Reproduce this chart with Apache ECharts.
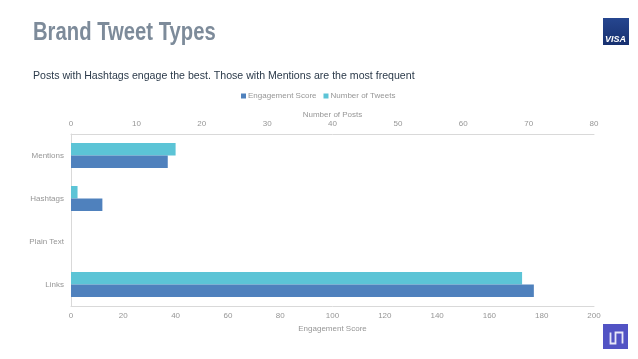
<!DOCTYPE html>
<html>
<head>
<meta charset="utf-8">
<title>Brand Tweet Types</title>
<style>
  html, body { margin: 0; padding: 0; background: #fff; }
  #chart { width: 638px; height: 359px; }
</style>
<script src="https://cdn.jsdelivr.net/npm/echarts@6/dist/echarts.min.js"></script>
</head>
<body>
<div id="chart"></div>
<script>
// bottom to top, same as the bars on the category axis
const categories = ['Links', 'Plain Text', 'Hashtags', 'Mentions'];
const engagementScore = [177, 0, 12, 37];
const numberOfTweets = [69, 0, 1, 16];

const labelFont = 'Liberation Sans';
const labelColor = '#969696';
const lineColor = '#d9d9d9';

const chart = echarts.init(document.getElementById('chart'));

chart.setOption({
    animation: false,
    textStyle: { fontFamily: labelFont },
    title: {
        text: 'Posts with Hashtags engage the best. Those with Mentions are the most frequent',
        left: 28, top: 66,
        textStyle: { fontSize: 10.6, fontWeight: 'normal', color: '#2b3a4a', fontFamily: labelFont }
    },
    legend: {
        top: 87, left: 236,
        itemWidth: 5, itemHeight: 5, itemGap: 7,
        icon: 'rect',
        textStyle: { fontSize: 8, color: labelColor, padding: [0, 0, 0, -3] },
        data: ['Engagement Score', 'Number of Tweets']
    },
    grid: { left: 71, right: 44, top: 134, bottom: 53 },
    yAxis: {
        type: 'category',
        data: categories,
        axisLine: { lineStyle: { color: lineColor } },
        axisTick: { show: false },
        axisLabel: { fontSize: 8, color: labelColor, margin: 7 }
    },
    xAxis: [
        {
            type: 'value', position: 'bottom',
            min: 0, max: 200, interval: 20,
            name: 'Engagement Score', nameLocation: 'middle', nameGap: 19,
            nameTextStyle: { fontSize: 8, color: labelColor },
            axisLine: { show: true, lineStyle: { color: lineColor } },
            axisTick: { show: false },
            splitLine: { show: false },
            axisLabel: { fontSize: 8, color: labelColor, margin: 6 }
        },
        {
            type: 'value', position: 'top',
            min: 0, max: 80, interval: 10,
            name: 'Number of Posts', nameLocation: 'middle', nameGap: 15,
            nameTextStyle: { fontSize: 8, color: labelColor },
            axisLine: { show: true, lineStyle: { color: lineColor } },
            axisTick: { show: false },
            splitLine: { show: false },
            axisLabel: { fontSize: 8, color: labelColor, margin: 6 }
        }
    ],
    // teal goes first so it sits above the blue bar, the legend keeps its own order
    series: [
        {
            name: 'Number of Tweets', type: 'bar', xAxisIndex: 1,
            data: numberOfTweets, barWidth: 12.5, barGap: 0,
            itemStyle: { color: '#5cc4d6' }
        },
        {
            name: 'Engagement Score', type: 'bar', xAxisIndex: 0,
            data: engagementScore, barWidth: 12.5, barGap: 0,
            itemStyle: { color: '#4f81bd' }
        }
    ],
    graphic: [
        // no condensed font installed, so squeeze the heading sideways
        {
            type: 'text', x: 33, y: 21, scaleX: 0.81,
            style: { text: 'Brand Tweet Types', fill: '#7d8b9a', font: 'bold 25px "Liberation Sans"' }
        },
        // corner logos
        {
            type: 'rect', left: 603, top: 18,
            shape: { width: 26, height: 27 },
            style: {
                fill: new echarts.graphic.LinearGradient(0, 0, 0, 1, [
                    { offset: 0, color: '#26468f' },
                    { offset: 1, color: '#17306f' }
                ])
            }
        },
        {
            type: 'text', left: 605, top: 35,
            style: { text: 'VISA', fill: '#fff', font: 'italic bold 9px "Liberation Sans"' }
        },
        {
            type: 'rect', left: 603, top: 324,
            shape: { width: 25, height: 25 },
            style: { fill: '#5253c4' }
        },
        {
            type: 'polyline', left: 608, top: 330,
            shape: { points: [[0, 0], [0, 11], [5, 11], [5, 0], [12, 0], [12, 11]] },
            style: { stroke: '#e8e8f8', fill: null, lineWidth: 1.8 }
        }
    ]
});

window.addEventListener('resize', () => chart.resize());
</script>
</body>
</html>
